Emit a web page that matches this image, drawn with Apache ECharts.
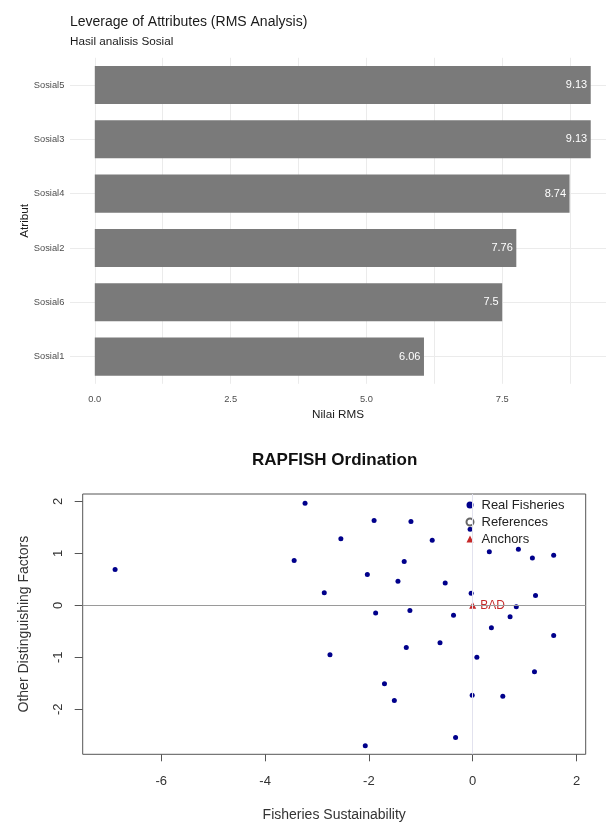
<!DOCTYPE html>
<html><head><meta charset="utf-8">
<script src="https://cdn.jsdelivr.net/npm/echarts@6/dist/echarts.min.js"></script>
<style>html,body{margin:0;padding:0;background:#fff}#c{width:606px;height:824px}</style>
</head><body><div id="c"></div>
<script>
// ---- Top chart: Leverage of Attributes ----
const attrCategories = ['Sosial1', 'Sosial6', 'Sosial2', 'Sosial4', 'Sosial3', 'Sosial5'];
const rmsValues = [6.06, 7.5, 7.76, 8.74, 9.13, 9.13];
const rmsLabelTicks = [0, 2.5, 5, 7.5];
const rmsGridValues = [0, 1.25, 2.5, 3.75, 5, 6.25, 7.5, 8.75];

// ---- Bottom chart: RAPFISH Ordination ----
const fisheriesX = [-6.89, -3.23, -1.90, -1.19, -0.05, -2.54, -0.78, 0.32, 0.88, 1.15, 1.56, -3.44, -1.32, -2.03, -1.44, -0.53, -2.86, -0.03, 1.21, -1.87, -1.21, -0.37, 0.84, 0.72, 0.36, 1.56, -2.75, -1.28, -0.63, 0.08, 1.19, -1.70, -1.51, -0.01, 0.58, -2.07, -0.33];
const fisheriesY = [0.69, 1.96, 1.63, 1.61, 1.46, 1.28, 1.25, 1.03, 1.08, 0.91, 0.96, 0.86, 0.84, 0.59, 0.46, 0.43, 0.24, 0.23, 0.19, -0.15, -0.10, -0.19, -0.03, -0.22, -0.43, -0.58, -0.95, -0.81, -0.72, -1.00, -1.28, -1.51, -1.83, -1.73, -1.75, -2.70, -2.54];
const anchorNames = ['BAD'];
const anchorX = [0];
const anchorY = [0];
const ordXTicks = [-6, -4, -2, 0, 2];
const ordYTicks = [-2, -1, 0, 1, 2];

const FONT = '"Liberation Sans", Arial, Helvetica, sans-serif';
const fisheriesData = fisheriesX.map((x, i) => [x, fisheriesY[i]]);
const anchorData = anchorX.map((x, i) => ({ name: anchorNames[i], value: [x, anchorY[i]] }));

const chart = echarts.init(document.getElementById('c'), null, { renderer: 'canvas' });
chart.setOption({
  animation: false,
  backgroundColor: '#ffffff',
  textStyle: { fontFamily: FONT },
  title: [
    { text: 'Leverage of Attributes (RMS Analysis)', left: 70, top: 15, padding: 0,
      textStyle: { fontSize: 14, fontWeight: 'normal', color: '#1a1a1a', fontFamily: FONT } },
    { text: 'Hasil analisis Sosial', left: 70, top: 36, padding: 0,
      textStyle: { fontSize: 11.7, fontWeight: 'normal', color: '#1a1a1a', fontFamily: FONT } },
    { text: 'RAPFISH Ordination', left: 252, top: 452, padding: 0,
      textStyle: { fontSize: 17, fontWeight: 'bold', color: '#111', fontFamily: FONT } }
  ],
  legend: {
    orient: 'vertical', left: 465.5, top: 498, padding: 0,
    itemWidth: 7, itemHeight: 7, itemGap: 3,
    textStyle: { fontSize: 13, color: '#222', lineHeight: 14, padding: [0, 0, 0, 3], fontFamily: FONT },
    data: ['Real Fisheries', 'References', 'Anchors']
  },
  grid: [
    { left: 70, top: 57.8, width: 536, height: 326 },
    { left: 82.7, top: 494, width: 503, height: 260.3, show: true, borderColor: '#555', borderWidth: 1, backgroundColor: 'transparent' }
  ],
  xAxis: [
    { gridIndex: 0, type: 'value', min: -0.4565, max: 9.411,
      axisLine: { show: false, onZero: false },
      axisTick: { show: false, customValues: rmsGridValues },
      axisLabel: { customValues: rmsLabelTicks, formatter: v => v.toFixed(1), fontSize: 9.3, color: '#4d4d4d', margin: 11, fontFamily: FONT },
      splitLine: { show: true, lineStyle: { color: '#ebebeb', width: 1 } },
      name: 'Nilai RMS', nameLocation: 'middle', nameGap: 25,
      nameTextStyle: { fontSize: 11.7, color: '#1a1a1a', fontFamily: FONT } },
    { gridIndex: 1, type: 'value', min: -7.514, max: 2.177,
      axisLine: { show: false, onZero: false },
      axisTick: { show: true, customValues: ordXTicks, length: 7, lineStyle: { color: '#555' } },
      axisLabel: { customValues: ordXTicks, fontSize: 13, color: '#333', margin: 21, fontFamily: FONT },
      splitLine: { show: false },
      name: 'Fisheries Sustainability', nameLocation: 'middle', nameGap: 54,
      nameTextStyle: { fontSize: 14, color: '#333', fontFamily: FONT } }
  ],
  yAxis: [
    { gridIndex: 0, type: 'category', data: attrCategories,
      axisLine: { show: false },
      axisTick: { show: false, alignWithLabel: true },
      splitLine: { show: true, alignWithLabel: true, interval: 0, lineStyle: { color: '#ebebeb', width: 1 } },
      axisLabel: { fontSize: 9.3, color: '#4d4d4d', margin: 5.7, fontFamily: FONT },
      name: 'Atribut', nameLocation: 'middle', nameGap: 39, nameRotate: 90, nameMoveOverlap: false,
      nameTextStyle: { fontSize: 11.7, color: '#1a1a1a', fontFamily: FONT } },
    { gridIndex: 1, type: 'value', min: -2.865, max: 2.14,
      axisLine: { show: false, onZero: false },
      axisTick: { show: true, customValues: ordYTicks, length: 8, lineStyle: { color: '#555' } },
      axisLabel: { customValues: ordYTicks, rotate: 90, fontSize: 13, color: '#333', margin: 18, fontFamily: FONT },
      splitLine: { show: false },
      name: 'Other Distinguishing Factors', nameLocation: 'middle', nameGap: 52, nameRotate: 90,
      nameTextStyle: { fontSize: 14, color: '#333', fontFamily: FONT } }
  ],
  series: [
    { type: 'bar', xAxisIndex: 0, yAxisIndex: 0, data: rmsValues, barWidth: '70%',
      itemStyle: { color: '#7a7a7a' },
      label: { show: true, position: 'insideRight', distance: 3.5, color: '#ffffff', fontSize: 11, fontFamily: FONT } },
    { type: 'scatter', name: 'Real Fisheries', xAxisIndex: 1, yAxisIndex: 1, data: fisheriesData,
      symbol: 'circle', symbolSize: 5, itemStyle: { color: '#00008b', opacity: 1 },
      markLine: { silent: true, symbol: 'none', label: { show: false }, animation: false,
        data: [
          { yAxis: 0, lineStyle: { color: '#9a9a9a', width: 1, type: 'solid' } },
          { xAxis: 0, lineStyle: { color: '#e2e2ee', width: 1, type: 'solid' } }
        ] } },
    { type: 'scatter', name: 'References', xAxisIndex: 1, yAxisIndex: 1, data: [],
      symbol: 'circle', symbolSize: 5, itemStyle: { color: '#ffffff', borderColor: '#666', borderWidth: 0.8, opacity: 1 } },
    { type: 'scatter', name: 'Anchors', xAxisIndex: 1, yAxisIndex: 1, data: anchorData,
      symbol: 'triangle', symbolSize: 7, itemStyle: { color: '#c62828', opacity: 1 },
      label: { show: true, position: 'right', distance: 4, formatter: p => p.name, color: '#c62828', fontSize: 12, fontFamily: FONT } }
  ]
});
</script>
</body></html>
